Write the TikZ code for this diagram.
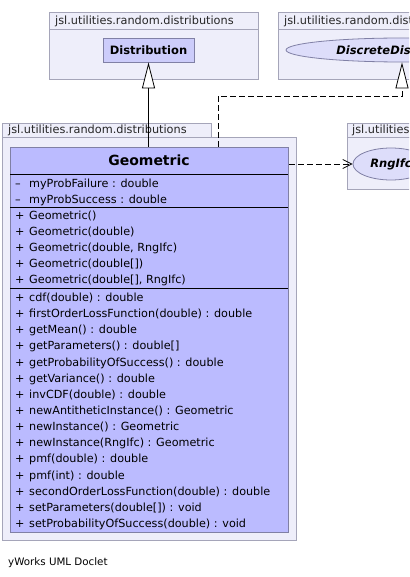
\documentclass[tikz,border=0pt]{standalone}
\usepackage{fontspec}
\setmainfont{DejaVu Sans}
\usetikzlibrary{shapes.geometric,arrows.meta}
\definecolor{pkgfill}{RGB}{238,238,250}
\definecolor{pkgdraw}{RGB}{165,165,185}
\definecolor{clsfill}{RGB}{187,187,255}
\definecolor{clsdraw}{RGB}{128,128,165}
\definecolor{distfill}{RGB}{204,204,250}
\definecolor{ifcfill}{RGB}{221,221,250}
\newcommand{\vis}[1]{\makebox[14pt][l]{#1}}
\begin{document}
\begin{tikzpicture}[x=1pt,y=-1pt,
  pkgbox/.style={draw=pkgdraw, fill=pkgfill, line width=0.8pt, rectangle, inner sep=0pt, anchor=north west},
  pkgline/.style={draw=pkgdraw, line width=0.8pt},
  pkglabel/.style={anchor=base west, inner sep=0pt, font=\fontsize{11.3}{13}\selectfont, text=black!85},
  classbox/.style={draw=clsdraw, fill=clsfill, line width=0.8pt, rectangle, inner sep=0pt, anchor=north west},
  smallclass/.style={draw=clsdraw, fill=distfill, line width=0.8pt, rectangle, inner sep=0pt, font=\fontsize{11.5}{13}\selectfont\bfseries},
  ifcell/.style={ellipse, draw=clsdraw, fill=ifcfill, line width=0.8pt, inner sep=0pt, font=\fontsize{11.5}{13}\selectfont\bfseries\itshape},
  member/.style={anchor=base west, inner sep=0pt, font=\fontsize{11.2}{13}\selectfont},
  sepline/.style={line width=0.8pt, black},
  inherit/.style={line width=0.8pt, -{Triangle[open, length=26pt, width=13pt, fill=white]}},
  realize/.style={inherit, dash pattern=on 6pt off 3pt},
  depend/.style={line width=0.8pt, dash pattern=on 6pt off 3pt, -{Straight Barb[length=9pt, width=9pt]}},
]
\useasboundingbox (0,0) rectangle (409,577);
\clip (0,0) rectangle (409,577);

% top-left package
\node[pkgbox, minimum width=209pt, minimum height=67pt] (pkgDist) at (49,12) {};
\draw[pkgline] (49,29) -- (258,29);
\node[pkglabel] (lblDist) at (55,25) {jsl.utilities.random.distributions};
\node[smallclass, minimum width=91pt, minimum height=24pt] (dist) at (148.5,50) {Distribution};

% top-right package
\node[pkgbox, minimum width=170pt, minimum height=67pt] (pkgDD) at (278,12) {};
\draw[pkgline] (278,29) -- (448,29);
\node[pkglabel] (lblDD) at (284,25) {jsl.utilities.random.distributions};
\node[ifcell, minimum width=232pt, minimum height=24pt] (ddist) at (402,50) {DiscreteDistribution};

% Geometric package
\node[pkgbox, minimum width=209pt, minimum height=14pt] (tabGeo) at (2,123) {};
\node[pkgbox, minimum width=294pt, minimum height=403pt] (pkgGeo) at (2,137) {};
\node[pkglabel] (lblGeo) at (8,134) {jsl.utilities.random.distributions};
\node[classbox, minimum width=278pt, minimum height=385pt] (geo) at (10,147) {};
\draw[sepline] (10,174) -- (288,174);
\draw[sepline] (10,207) -- (288,207);
\draw[sepline] (10,288) -- (288,288);
\node[anchor=base, inner sep=0pt, font=\fontsize{14}{16}\selectfont\bfseries] (geoTitle) at (149,166) {Geometric};

\node[member] (f1) at (15,187.5) {\vis{–}myProbFailure : double};
\node[member] (f2) at (15,203.5) {\vis{–}myProbSuccess : double};

\foreach \t [count=\i from 0] in {Geometric(), Geometric(double), {Geometric(double, RngIfc)}, Geometric(double[]), {Geometric(double[], RngIfc)}}
  \node[member] (c\i) at (15,219.5+16*\i) {\vis{+}\t};

\foreach \t [count=\i from 0] in {cdf(double) : double, firstOrderLossFunction(double) : double, getMean() : double, getParameters() : double[], getProbabilityOfSuccess() : double, getVariance() : double, invCDF(double) : double, newAntitheticInstance() : Geometric, newInstance() : Geometric, newInstance(RngIfc) : Geometric, pmf(double) : double, pmf(int) : double, secondOrderLossFunction(double) : double, setParameters(double[]) : void, setProbabilityOfSuccess(double) : void}
  \node[member] (m\i) at (15,301.5+16.14*\i) {\vis{+}\t};

% right package
\node[pkgbox, minimum width=110pt, minimum height=14pt] (tabRng) at (347,123) {};
\node[pkgbox, minimum width=110pt, minimum height=52pt] (pkgRng) at (347,137) {};
\node[pkglabel] (lblRng) at (352,134) {jsl.utilities.random.rng};
\node[ifcell, minimum width=76pt, minimum height=32pt] (rng) at (391,164) {RngIfc};

% connectors
\draw[inherit] (geo.north -| dist.south) -- (dist.south);
\coordinate (rGeo) at (218,147);
\draw[realize] (rGeo) -- (218,96) -| (ddist.south);
\draw[depend] (geo.east |- rng.west) -- (rng.west);

\node[anchor=base west, inner sep=0pt, font=\fontsize{10.3}{12}\selectfont] (footer) at (8,565) {yWorks UML Doclet};
\end{tikzpicture}
\end{document}
